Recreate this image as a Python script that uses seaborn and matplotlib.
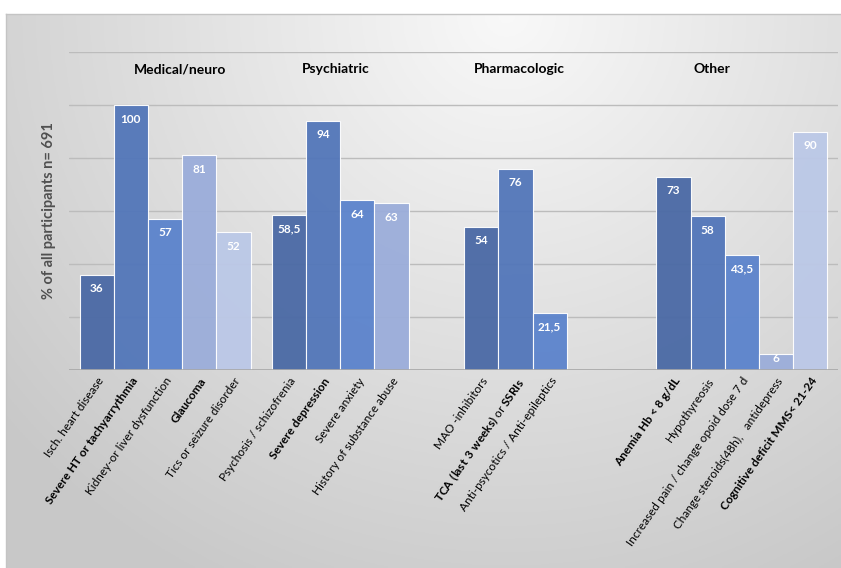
import numpy as np
import pandas as pd
import matplotlib
matplotlib.use("Agg")
import matplotlib.pyplot as plt
import seaborn as sns

# ---------------- data ----------------
groups = ["Medical/neuro", "Psychiatric", "Pharmacologic", "Other"]
group_of_item = [0, 0, 0, 0, 0, 1, 1, 1, 1, 2, 2, 2, 3, 3, 3, 3, 3]
slot_of_item = [0, 1, 2, 3, 4, 0, 1, 2, 3, 0, 1, 2, 0, 1, 2, 3, 4]
items = [
    "Isch. heart disease",
    "Severe HT or tachyarrythmia",
    "Kidney-or liver dysfunction",
    "Glaucoma",
    "Tics or seizure disorder",
    "Psychosis / schizofrenia",
    "Severe depression",
    "Severe anxiety",
    "History of substance abuse",
    "MAO -inhibitors",
    r"$\bf{TCA\ (last\ 3\ weeks)}$ or $\bf{SSRIs}$",
    "Anti-psycotics / Anti-epileptics",
    "Anemia Hb < 8 g/dL",
    "Hypothyreosis",
    "Increased pain / change opoid dose 7 d",
    "Change steroids(48h),   antidepress",
    "Cognitive deficit MMS< 21-24",
]
bold_items = [False, True, False, True, False, False, True, False, False,
              False, False, False, True, False, False, False, True]
values = [36, 100, 57, 81, 52, 58.5, 94, 64, 63, 54, 76, 21.5, 73, 58, 43.5, 6, 90]
value_labels = ["36", "100", "57", "81", "52", "58,5", "94", "64", "63",
                "54", "76", "21,5", "73", "58", "43,5", "6", "90"]
y_label = "% of all participants n= 691"

slot_colors = ["#4a69a5", "#5276b9", "#5b83cc", "#9badda", "#bbc8e7"]

df = pd.DataFrame({
    "group": [groups[g] for g in group_of_item],
    "slot": [str(s) for s in slot_of_item],
    "value": values,
})

# ---------------- style ----------------
sns.set_theme(style="white")
plt.rcParams["font.family"] = ["Lato", "DejaVu Sans"]
plt.rcParams["mathtext.fontset"] = "custom"
plt.rcParams["mathtext.bf"] = "Lato:bold"
plt.rcParams["mathtext.rm"] = "Lato"

W, H = 841, 568
fig = plt.figure(figsize=(W / 100, H / 100), dpi=100)
fig.patch.set_facecolor("white")

# gradient background panel
bg = fig.add_axes([6 / W, 0, (W - 6) / W, (H - 14) / H], zorder=-5)
nx, ny = 300, 200
xx, yy = np.meshgrid(np.linspace(0, 1, nx), np.linspace(0, 1, ny))
r = np.sqrt(((xx - 0.6) / 0.75) ** 2 + (yy / 1.1) ** 2)
v = 0.975 - 0.18 * np.clip(r, 0, 1.05)
bg.imshow(np.dstack([v, v, v]), extent=(0, 1, 1, 0), aspect="auto")
bg.set_xlim(0, 1)
bg.set_ylim(1, 0)
bg.set_xticks([])
bg.set_yticks([])
for side, sp in bg.spines.items():
    sp.set_visible(side in ("top", "left"))
    sp.set_color("#c4c4c4")
    sp.set_linewidth(1.0)

ax = fig.add_axes([69 / W, 1 - 370 / H, (838 - 69) / W, (370 - 52) / H])
ax.set_facecolor("none")

width = 0.89
sns.barplot(
    data=df, x="group", y="value", hue="slot",
    order=groups, hue_order=[str(i) for i in range(5)],
    palette=slot_colors, saturation=1, dodge=True, width=width, errorbar=None,
    legend=False, ax=ax, alpha=0.95,
    edgecolor=(1, 1, 1, 0.45), linewidth=0.8, zorder=3,
)

ax.set_xlim(-0.5, 3.5)
ax.set_ylim(0, 120)
ax.set_yticks(np.arange(0, 121, 20))
ax.set_yticklabels([])
ax.tick_params(axis="y", length=0)
ax.yaxis.grid(True, color="#bcbcbc", linewidth=1.0, zorder=1)
ax.set_axisbelow(True)
for sp in ax.spines.values():
    sp.set_visible(False)
ax.axhline(0, color="#a8a8a8", linewidth=1.2, zorder=4)

# bar positions
slot_w = width / 5
xpos = [g - width / 2 + (s + 0.5) * slot_w for g, s in zip(group_of_item, slot_of_item)]

ax.set_xticks(xpos)
ax.set_xticklabels(items, rotation=55, ha="right", va="top",
                   rotation_mode="anchor", fontsize=8.5, color="black")
for lab, b in zip(ax.get_xticklabels(), bold_items):
    if b:
        lab.set_fontweight("bold")
ax.tick_params(axis="x", length=0, pad=4)
ax.set_xlabel("")

ax.set_ylabel(y_label, fontsize=10.5, fontweight="bold", color="#505050", labelpad=6)

# value labels (inside end of each bar)
for x, v_, t in zip(xpos, values, value_labels):
    yl = v_ - 5.3 if v_ > 10 else v_ - 1.6
    ax.text(x, yl, t, ha="center", va="center", color="white", fontsize=8.5,
            fontweight="bold", zorder=5)

# group titles
title_x = [0.08, 0.885, 1.845, 2.845]
for gx, name in zip(title_x, groups):
    ax.text(gx, 113.5, name, ha="center", va="center", fontsize=10,
            fontweight="bold", color="black")

fig.savefig("out.png", dpi=100)
